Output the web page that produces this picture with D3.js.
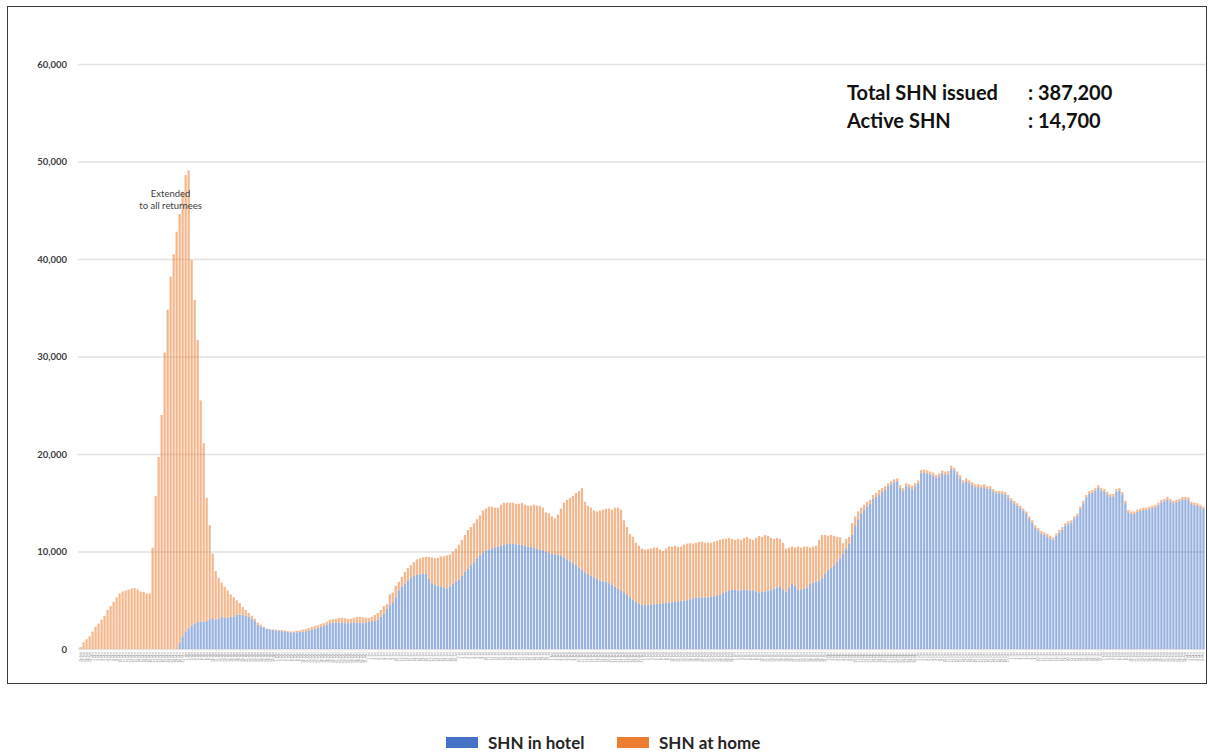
<!DOCTYPE html>
<html>
<head>
<meta charset="utf-8">
<script src="https://d3js.org/d3.v7.min.js"></script>
<style>
    body { margin: 0; background: #fff; }
    svg { display: block; font-family: Lato, 'Open Sans', sans-serif; }
</style>
</head>
<body>
<svg id="chart" width="1209" height="753"></svg>
<script>
// daily SHN counts (persons)
const hotel = [
    0, 0, 0, 0, 0, 0, 0, 0, 0, 0,
    0, 0, 0, 0, 0, 0, 0, 0, 0, 0,
    0, 0, 0, 0, 0, 0, 0, 0, 0, 0,
    0, 0, 0,
    600, 1300, 1800, 2100, 2400, 2600, 2750, 2800, 2800, 2850,
    3000, 3150, 3000, 3100, 3300, 3200, 3200, 3300, 3300, 3500,
    3500, 3500, 3400, 3300, 3100, 2900, 2500, 2300, 2200, 2050,
    2000, 1950,
    1900, 1850, 1800, 1800, 1750, 1700, 1700, 1700, 1750, 1750,
    1800, 1850, 1950, 2050, 2150, 2250, 2350, 2500, 2650, 2700,
    2700, 2700, 2700, 2650, 2650, 2650, 2700, 2700, 2700, 2650,
    2700, 2800, 2850, 2900, 3000, 3300, 3600, 4100, 4500, 4800,
    5300, 6000, 6400, 6700, 7000, 7300, 7500, 7600, 7650, 7700,
    7700, 7200, 6750, 6600, 6450, 6400, 6300, 6200, 6400, 6700,
    6900, 7100, 7500, 7900, 8200, 8600, 8900, 9300, 9600, 9900,
    10100, 10200, 10300, 10400, 10500, 10600, 10700, 10800, 10800, 10800,
    10750, 10700, 10700, 10600, 10500, 10450, 10350, 10300, 10200, 10150,
    10000, 9850, 9750, 9700, 9650, 9600, 9400, 9200, 9000, 8800,
    8600, 8350, 8100, 7850, 7700, 7500, 7350, 7200, 7000, 6950,
    6900, 6750, 6600, 6400, 6200, 6000, 5800, 5550, 5300, 5050,
    4850, 4650, 4550, 4500, 4500, 4550, 4600, 4600, 4650, 4700,
    4750, 4750, 4800, 4850, 4900, 4900, 4950, 5000, 5100, 5200,
    5300, 5300, 5300, 5300, 5300, 5350, 5400, 5450, 5600, 5750,
    5900, 6000, 6050, 6050, 6000, 6000, 6050, 6050, 6000, 6000,
    5900, 5800, 5850, 5900, 6000, 6100, 6200, 6300, 6400, 6100,
    5900, 6300, 6700, 6500, 6050, 6100, 6200, 6300, 6700, 6800,
    6900, 7000, 7250, 7700, 8100, 8300, 8600, 8950, 9300, 9800,
    10300, 10800, 11700, 12600, 13300, 13900, 14300, 14600, 14900, 15400,
    15600, 15800, 16100, 16300, 16700, 16900, 17100, 17200, 16500, 16200,
    16700, 16600, 16400, 16700, 17000, 18050, 18100, 18000, 17900, 17800,
    17550, 17700, 18000, 17900, 17900, 18500, 18300, 17900, 17500, 17000,
    17200, 17000, 16800, 16600, 16600, 16500, 16600, 16400, 16450, 16150,
    15950, 15950, 15950, 15850, 15550, 15200, 14950, 14700, 14450, 14150,
    13850, 13350, 12950, 12450, 12150, 11850, 11700, 11550, 11350, 11200,
    11600, 11950, 12250, 12650, 12850, 12950, 13350, 13650, 14350, 14950,
    15550, 15950, 16050, 16250, 16550, 16250, 16150, 15850, 15650, 15650,
    16150, 16250, 15850, 14950, 14000, 13850, 13850, 14050, 14150, 14250,
    14250, 14350, 14450, 14550, 14750, 15050, 15150, 15350, 15150, 14950,
    15050, 15150, 15350, 15350, 15300, 14850, 14750, 14700, 14550, 14350
]

const home = [
    200, 700, 1000, 1300, 1800, 2300, 2600, 3000, 3400, 4000,
    4400, 4850, 5300, 5700, 5900, 6000, 6100, 6200, 6250, 6100,
    5900, 5850, 5700, 5700, 10400, 15700, 19700, 24000, 30400, 34800,
    38200, 40500, 42800,
    44000, 45600, 46800, 47000, 37500, 33200, 28950, 22700, 18300, 12650,
    9700, 6650, 5000, 4200, 3500, 3200, 2800, 2300, 2000, 1500,
    1200, 800, 600, 400, 300, 200, 200, 200, 100, 50,
    50, 50,
    100, 100, 150, 100, 100, 100, 100, 150, 150, 250,
    250, 300, 300, 300, 300, 300, 300, 300, 350, 350,
    400, 500, 500, 500, 450, 450, 500, 600, 600, 600,
    500, 400, 450, 600, 700, 700, 800, 500, 1100, 1000,
    1200, 900, 1000, 1200, 1300, 1300, 1400, 1600, 1650, 1700,
    1750, 2250, 2650, 2700, 2900, 3100, 3200, 3400, 3300, 3300,
    3400, 3600, 3700, 3800, 4000, 3900, 4000, 4000, 4100, 4300,
    4300, 4400, 4300, 4100, 4000, 4200, 4300, 4200, 4200, 4200,
    4150, 4200, 4300, 4200, 4200, 4250, 4450, 4400, 4500, 4350,
    4000, 4050, 3850, 3700, 4150, 4800, 5600, 6100, 6500, 6900,
    7400, 7850, 8400, 7250, 7000, 7000, 6850, 6900, 7200, 7350,
    7500, 7650, 7700, 8100, 8300, 8300, 7400, 6950, 6500, 6450,
    6050, 5950, 5750, 5700, 5750, 5750, 5800, 5800, 5550, 5350,
    5550, 5750, 5700, 5750, 5600, 5600, 5750, 5800, 5750, 5600,
    5600, 5700, 5700, 5600, 5600, 5550, 5600, 5650, 5600, 5550,
    5400, 5400, 5250, 5150, 5300, 5200, 5350, 5450, 5300, 5200,
    5500, 5800, 5650, 5800, 5600, 5300, 5100, 5100, 4900, 4800,
    4400, 4100, 3800, 3900, 4450, 4300, 4300, 4200, 3700, 3700,
    3700, 4200, 4450, 4000, 3500, 3400, 3000, 2550, 2150, 1050,
    1000, 700, 1200, 1000, 800, 600, 500, 500, 400, 400,
    400, 500, 400, 400, 300, 300, 300, 300, 300, 300,
    300, 300, 350, 300, 300, 300, 300, 300, 300, 300,
    300, 300, 300, 300, 350, 300, 300, 300, 300, 300,
    300, 300, 300, 300, 300, 300, 300, 300, 250, 250,
    250, 250, 250, 250, 250, 250, 250, 250, 250, 250,
    250, 250, 250, 250, 250, 250, 250, 250, 250, 250,
    250, 250, 250, 250, 250, 250, 250, 250, 250, 250,
    250, 250, 250, 250, 250, 250, 250, 250, 250, 250,
    250, 250, 250, 250, 250, 250, 250, 250, 250, 250,
    250, 250, 250, 250, 250, 250, 250, 250, 250, 250,
    250, 250, 250, 250, 250, 250, 250, 250, 250, 250
]

const startDate = new Date(2020, 1, 26)
const dates = d3.timeDay.range(startDate, d3.timeDay.offset(startDate, hotel.length))
const dayLabels = dates.map(d3.timeFormat('%-d-%b'))

const yTicks = [0, 10000, 20000, 30000, 40000, 50000, 60000]
const seriesKeys = ['hotel', 'home']
const seriesNames = ['SHN in hotel', 'SHN at home']
const seriesColors = ['#4472C4', '#ED7D31']
const summaryLabels = ['Total SHN issued', 'Active SHN']
const summaryValues = [': 387,200', ': 14,700']
const noteLines = ['Extended', 'to all returnees']

const svg = d3.select('#chart')

svg.append('rect')
    .attr('x', 7.5).attr('y', 6.5)
    .attr('width', 1199).attr('height', 677)
    .attr('fill', 'none')
    .attr('stroke', '#3a3a3a')

// one band per day (labels repeat after a year, so key by index)
const x = d3.scaleBand()
    .domain(d3.range(dayLabels.length))
    .range([79, 1205])
    .paddingInner(0.25)
    .paddingOuter(0.15)

const y = d3.scaleLinear()
    .domain([0, 60000])
    .range([649, 64])

// gridlines
svg.append('g')
    .attr('transform', 'translate(78,0)')
    .call(d3.axisLeft(y).tickValues(yTicks).tickSize(-1127).tickFormat(''))
    .call(g => g.select('.domain').remove())
    .call(g => g.selectAll('line').attr('stroke', '#e2e2e2').attr('stroke-width', 1.5))

// y labels
svg.append('g')
    .attr('transform', 'translate(67,0)')
    .call(d3.axisLeft(y).tickValues(yTicks).tickSize(0).tickPadding(0).tickFormat(d3.format(',')))
    .call(g => g.select('.domain').remove())
    .call(g => g.selectAll('text')
        .attr('fill', '#404040')
        .attr('font-size', 9.5)
        .attr('font-weight', 700)
        .attr('font-family', 'Lato, sans-serif'))

const rows = dayLabels.map((day, i) => ({ i, day, hotel: hotel[i], home: home[i] }))
const stacked = d3.stack().keys(seriesKeys)(rows)

svg.append('g')
    .selectAll('g')
    .data(stacked)
    .join('g')
    .attr('fill', (d, i) => seriesColors[i])
    .attr('fill-opacity', 0.55)
    .selectAll('rect')
    .data(d => d)
    .join('rect')
    .attr('x', d => x(d.data.i))
    .attr('width', x.bandwidth())
    .attr('y', d => y(d[1]))
    .attr('height', d => y(d[0]) - y(d[1]))

// tiny date labels under the bars
svg.append('g')
    .selectAll('text')
    .data(dayLabels)
    .join('text')
    .attr('transform', (d, i) => `translate(${x(i) + x.bandwidth() / 2 + 1},652) rotate(-90)`)
    .attr('text-anchor', 'end')
    .attr('font-size', 3.2)
    .attr('fill', '#8a8a8a')
    .text(d => d)

// annotation at the peak
svg.append('g')
    .selectAll('text')
    .data(noteLines)
    .join('text')
    .attr('x', x(30) + x.bandwidth() / 2)
    .attr('y', (d, i) => y(46400) + i * 12)
    .attr('text-anchor', 'middle')
    .attr('font-size', 9.5)
    .attr('fill', '#404040')
    .text(d => d)

// totals box
const summary = svg.append('g')
    .attr('font-size', 20)
    .attr('font-weight', 700)
    .attr('fill', '#111')
summary.selectAll('text.label')
    .data(summaryLabels)
    .join('text')
    .attr('class', 'label')
    .attr('x', 847)
    .attr('y', (d, i) => 100 + i * 28)
    .text(d => d)
summary.selectAll('text.value')
    .data(summaryValues)
    .join('text')
    .attr('class', 'value')
    .attr('x', 1028)
    .attr('y', (d, i) => 100 + i * 28)
    .text(d => d)

// legend
const legendX = [446, 617]
const legend = svg.append('g')
    .selectAll('g')
    .data(seriesNames)
    .join('g')
    .attr('transform', (d, i) => `translate(${legendX[i]},737)`)

legend.append('rect')
    .attr('width', 32)
    .attr('height', 11)
    .attr('fill', (d, i) => seriesColors[i])

legend.append('text')
    .attr('x', 42)
    .attr('y', 11.5)
    .attr('font-size', 17)
    .attr('font-weight', 700)
    .attr('fill', '#262626')
    .text(d => d)
</script>
</body>
</html>
